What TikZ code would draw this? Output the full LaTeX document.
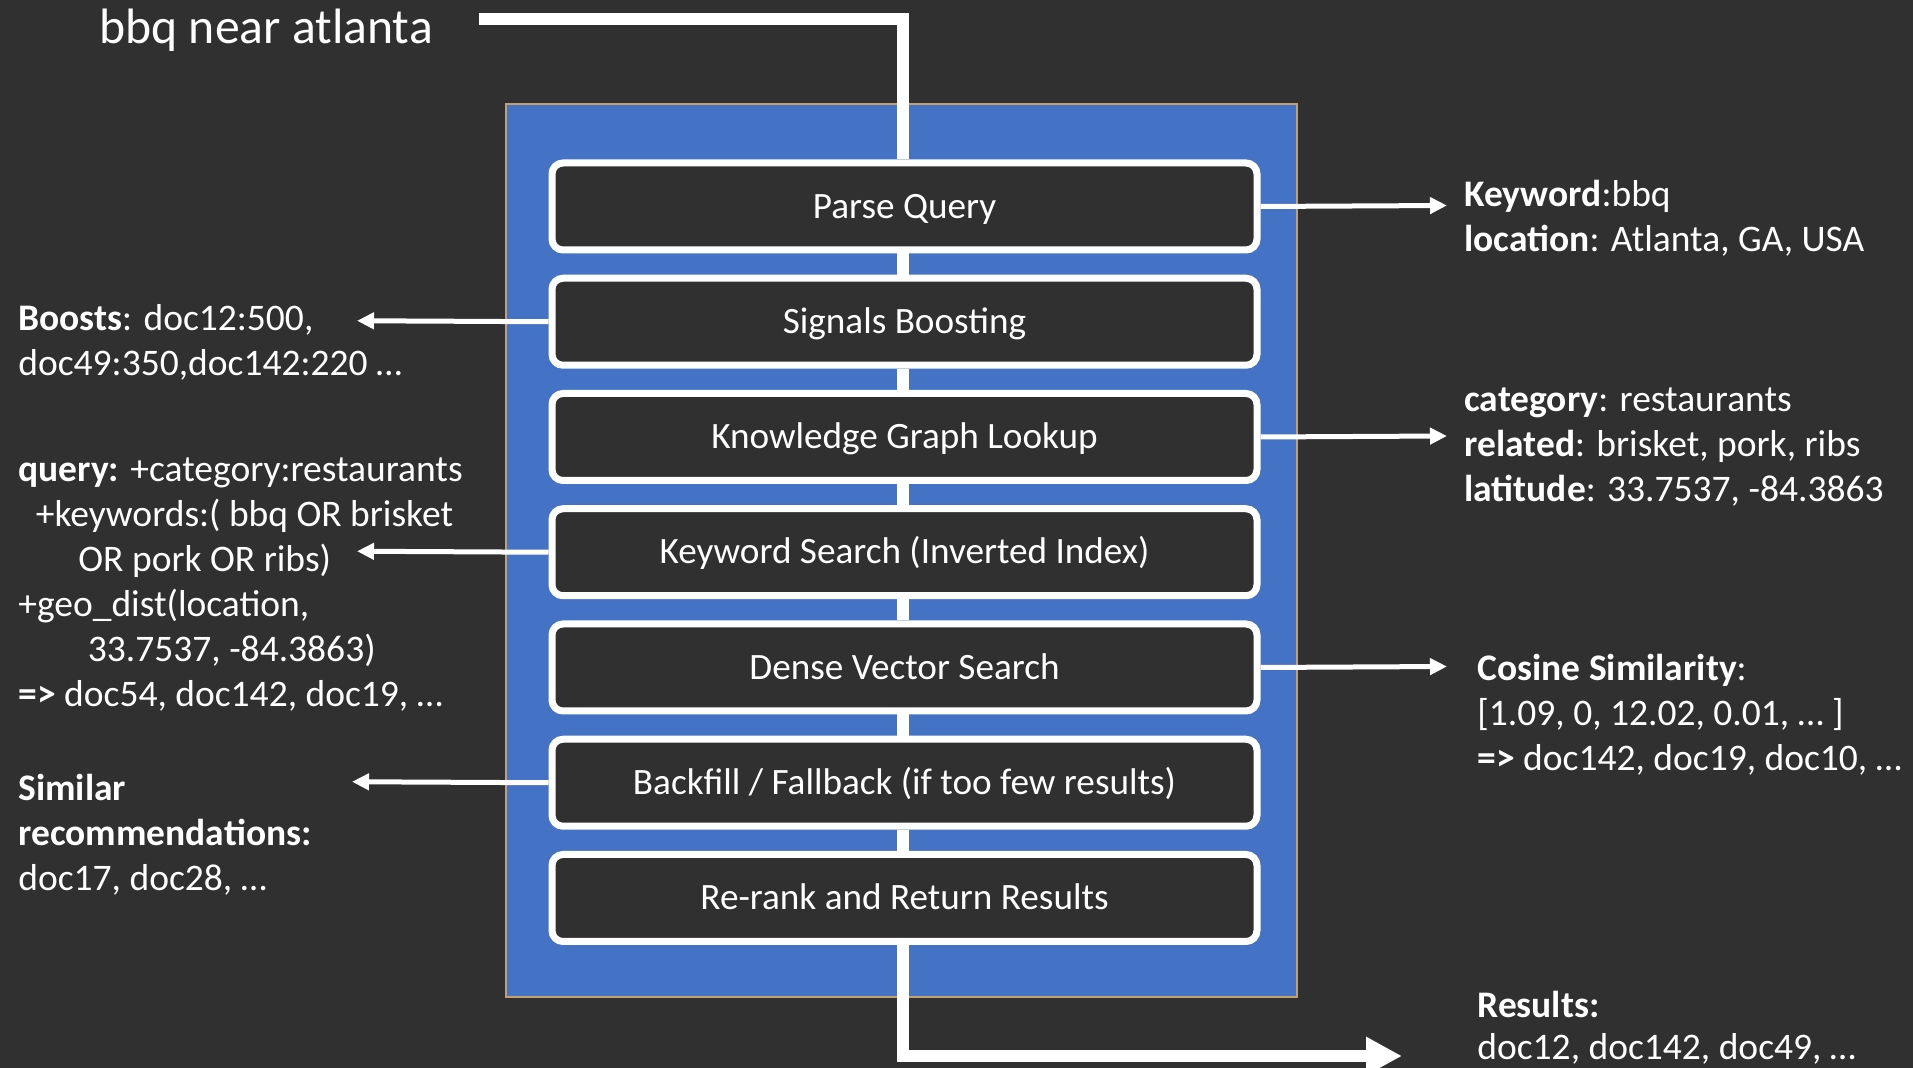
\documentclass[tikz,border=0pt]{standalone}
\usepackage{fontspec}
\setmainfont{Carlito}
\usetikzlibrary{arrows.meta}

\definecolor{bgdark}{RGB}{48,48,48}
\definecolor{panelblue}{RGB}{68,114,196}
\definecolor{paneledge}{RGB}{196,160,110}

\tikzset{
  stage/.style={draw=white, line width=3.5pt, fill=bgdark, rounded corners=5.5pt,
    minimum width=352.5pt, minimum height=43.5pt, inner sep=0pt,
    text=white, font=\fontsize{18.6pt}{22.5pt}\selectfont,
    text height=11.7pt, text depth=0pt, yshift=-0.5pt},
  flow/.style={draw=white, line width=6pt, line join=miter},
  sidearrow/.style={draw=white, line width=2.5pt, -{Triangle[length=8.5pt,width=8pt]}},
  txt/.style={anchor=base west, inner sep=0pt, text=white, yshift=-1.2pt,
    font=\fontsize{18.75pt}{22.5pt}\selectfont},
}

\begin{document}
\begin{tikzpicture}[x=0.5pt, y=-0.5pt]
  % page and background
  \useasboundingbox (0,0) rectangle (1913,1068);
  \fill[bgdark] (0,0) rectangle (1913,1068);

  % blue pipeline panel
  \path[fill=panelblue, draw=paneledge, line width=0.75pt] (506,104) rectangle (1297,997);

  % pipeline stages
  \node[stage] (parse)   at (904.5,205.5)  {Parse Query};
  \node[stage] (signals) at (904.5,320.75) {Signals Boosting};
  \node[stage] (kg)      at (904.5,436)    {Knowledge Graph Lookup};
  \node[stage] (kw)      at (904.5,551.25) {Keyword Search (Inverted Index)};
  \node[stage] (dense)   at (904.5,666.5)  {Dense Vector Search};
  \node[stage] (backfill)at (904.5,781.75) {Backfill / Fallback (if too few results)};
  \node[stage] (rerank)  at (904.5,897)    {Re-rank and Return Results};

  % links between stages
  \draw[flow] ([xshift=-0.75pt]parse.south) -- ([xshift=-0.75pt]signals.north);
  \draw[flow] ([xshift=-0.75pt]signals.south) -- ([xshift=-0.75pt]kg.north);
  \draw[flow] ([xshift=-0.75pt]kg.south) -- ([xshift=-0.75pt]kw.north);
  \draw[flow] ([xshift=-0.75pt]kw.south) -- ([xshift=-0.75pt]dense.north);
  \draw[flow] ([xshift=-0.75pt]dense.south) -- ([xshift=-0.75pt]backfill.north);
  \draw[flow] ([xshift=-0.75pt]backfill.south) -- ([xshift=-0.75pt]rerank.north);

  % incoming query
  \node[anchor=base west, inner sep=0pt, text=white, font=\fontsize{24.85pt}{30pt}\selectfont]
    (query) at (99,43.5) {bbq near atlanta};
  \coordinate (qstart) at (479,18.7);
  \draw[flow] (qstart) -| ([xshift=-0.75pt]parse.north);

  % outgoing results
  \coordinate (resEnd) at (1402,1056);
  \draw[flow, -{Triangle[length=18pt,width=18pt]}] ([xshift=-0.75pt]rerank.south) |- (resEnd);

  % side outputs, right
  \coordinate (parseTip) at (1447,205.5);
  \coordinate (kgTip)    at (1447,436);
  \coordinate (denseTip) at (1447,666.5);
  \draw[sidearrow] (parse.east) -- (parseTip);
  \draw[sidearrow] (kg.east) -- (kgTip);
  \draw[sidearrow] (dense.east) -- (denseTip);

  % side outputs, left
  \coordinate (sigTip)  at (357,320.75);
  \coordinate (kwTip)   at (357,551.25);
  \coordinate (backTip) at (352,781.75);
  \draw[sidearrow] (signals.west) -- (sigTip);
  \draw[sidearrow] (kw.west) -- (kwTip);
  \draw[sidearrow] (backfill.west) -- (backTip);

  % boosts
  \node[txt] (b1) at (18,328) {\textbf{Boosts}: doc12:500,};
  \node[txt] (b2) at (18,373) {doc49:350,doc142:220 …};

  % keyword query
  \node[txt] (k1) at (18,479)   {\textbf{query:} +category:restaurants};
  \node[txt] (k2) at (35.5,524) {+keywords:( bbq OR brisket};
  \node[txt] (k3) at (78,569)   {OR pork OR ribs)};
  \node[txt] (k4) at (18,614)   {+geo\_dist(location,};
  \node[txt] (k5) at (87.5,659) {33.7537, -84.3863)};
  \node[txt] (k6) at (18,704)   {\textbf{=>} doc54, doc142, doc19, …};

  % similar items
  \node[txt] (s1) at (18,798) {\textbf{Similar}};
  \node[txt] (s2) at (18,843) {\textbf{recommendations:}};
  \node[txt] (s3) at (18,888) {doc17, doc28, …};

  % parsed query
  \node[txt] (p1) at (1464,204) {\textbf{Keyword}:bbq};
  \node[txt] (p2) at (1464,249) {\textbf{location}: Atlanta, GA, USA};

  % knowledge graph
  \node[txt] (g1) at (1464,409) {\textbf{category}: restaurants};
  \node[txt] (g2) at (1464,454) {\textbf{related}: brisket, pork, ribs};
  \node[txt] (g3) at (1464,499) {\textbf{latitude}: 33.7537, -84.3863};

  % vector search
  \node[txt] (v1) at (1477,678) {\textbf{Cosine Similarity}:};
  \node[txt] (v2) at (1477,723) {[1.09, 0, 12.02, 0.01, … ]};
  \node[txt] (v3) at (1477,768) {\textbf{=>} doc142, doc19, doc10, …};

  % final results
  \node[txt] (r1) at (1477,1015) {\textbf{Results:}};
  \node[txt] (r2) at (1477,1057) {doc12, doc142, doc49, …};
\end{tikzpicture}
\end{document}
